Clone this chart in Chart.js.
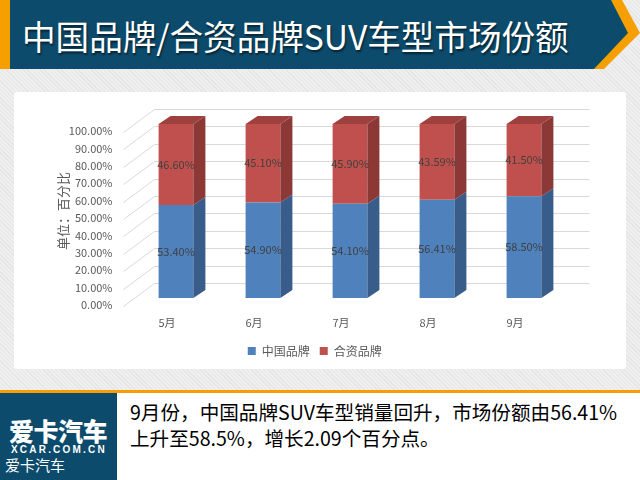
<!DOCTYPE html>
<html>
<head>
<meta charset="utf-8">
<script src="https://cdn.jsdelivr.net/npm/chart.js@4.4.0/dist/chart.umd.min.js"></script>
<style>
body{margin:0;width:640px;height:480px;overflow:hidden;position:relative;
  background:#ececec repeating-linear-gradient(45deg,#e5e5e5 0,#e5e5e5 1px,#efefef 1px,#efefef 3px);
  font-family:"Noto Sans CJK SC","Noto Sans",sans-serif;}
#head{position:absolute;left:0;top:0;width:640px;height:72px;}
#title{position:absolute;left:22px;top:14px;color:#fff;font-size:33.6px;line-height:44px;white-space:nowrap;
  text-shadow:1px 2px 2px rgba(0,0,0,.55);}
#panel{position:absolute;left:14px;top:92px;width:612px;height:277px;background:#fff;border-radius:3px;}
#foot{position:absolute;left:0;top:390px;width:640px;height:87px;background:#fff;border-top:3px solid #f5a000;}
#logo{position:absolute;left:0;top:0;width:117px;height:87px;background:#0c4b6c;color:#fff;}
#logo .big{position:absolute;left:9px;top:23px;font-size:25px;line-height:28px;font-weight:900;letter-spacing:-0.5px;white-space:nowrap;}
#logo .url{position:absolute;left:11px;top:51px;font-family:"Liberation Sans",Arial,sans-serif;font-size:10px;line-height:12px;font-weight:bold;letter-spacing:2.2px;white-space:nowrap;}
#logo .small{position:absolute;left:5px;top:62px;font-size:15px;line-height:20px;white-space:nowrap;}
#note{position:absolute;left:130px;top:6px;font-size:19.6px;line-height:26px;color:#000;white-space:nowrap;}
#wrap{position:absolute;left:0;top:0;width:640px;height:480px;}
</style>
</head>
<body>
<svg id="head" width="640" height="72">
  <polygon points="0,0 612,0 630,33 596,69 0,69" fill="#0c4b6c"/>
  <polygon points="611,0 622,0 640,33 604,69 594,69 628,33" fill="#f5a000"/>
  <rect x="0" y="0" width="10" height="69" fill="#f5a000"/>
</svg>
<div id="title">中国品牌/合资品牌SUV车型市场份额</div>
<div id="panel"></div>
<div id="foot">
  <div id="logo">
    <div class="big">爱卡汽车</div>
    <div class="url">XCAR.COM.CN</div>
    <div class="small">爱卡汽车</div>
  </div>
  <div id="note">9月份，中国品牌SUV车型销量回升，市场份额由56.41%<br>上升至58.5%，增长2.09个百分点。</div>
</div>
<div id="wrap"><canvas id="mycanvas" width="640" height="480"></canvas></div>
<script>
var months = ['5月', '6月', '7月', '8月', '9月'];
var chinaShare = [53.40, 54.90, 54.10, 56.41, 58.50];
var jvShare = [46.60, 45.10, 45.90, 43.59, 41.50];
var seriesNames = ['中国品牌', '合资品牌'];
var yTitle = '单位：百分比';

// 3d look: depth of the bars and of the back wall
var depthX = 12, depthY = 8;
var wallX = 22, wallY = 15;

Chart.defaults.font.family = '"Noto Sans CJK SC", "Noto Sans", sans-serif';
Chart.defaults.color = '#595959';

var wallPlugin = {
  id: 'wall',
  beforeDatasetsDraw: function(chart) {
    var ctx = chart.ctx;
    var xs = chart.scales.x, ys = chart.scales.y;
    ctx.save();
    ctx.strokeStyle = '#d9d9d9';
    ctx.lineWidth = 1;
    ys.ticks.forEach(function(t) {
      var py = Math.round(ys.getPixelForValue(t.value)) + 0.5;
      ctx.beginPath();
      ctx.moveTo(xs.left - 9, py + 8);
      ctx.lineTo(xs.left + wallX, py - wallY);
      ctx.lineTo(xs.right + wallX, py - wallY);
      ctx.stroke();
    });
    ctx.restore();
  },
  afterDatasetsDraw: function(chart) {
    var ctx = chart.ctx;
    var n = chart.data.datasets.length;
    ctx.save();
    chart.data.datasets.forEach(function(ds, i) {
      var meta = chart.getDatasetMeta(i);
      meta.data.forEach(function(bar) {
        var l = bar.x - bar.width / 2, r = bar.x + bar.width / 2;
        ctx.fillStyle = ds.sideColor;
        ctx.beginPath();
        ctx.moveTo(r, bar.y);
        ctx.lineTo(r + depthX, bar.y - depthY);
        ctx.lineTo(r + depthX, bar.base - depthY);
        ctx.lineTo(r, bar.base);
        ctx.closePath();
        ctx.fill();
        if (i == n - 1) {
          ctx.fillStyle = ds.topColor;
          ctx.beginPath();
          ctx.moveTo(l, bar.y);
          ctx.lineTo(l + depthX, bar.y - depthY);
          ctx.lineTo(r + depthX, bar.y - depthY);
          ctx.lineTo(r, bar.y);
          ctx.closePath();
          ctx.fill();
        }
      });
    });
    // value labels in the middle of each piece
    ctx.font = '11px "Noto Sans CJK SC", "Noto Sans", sans-serif';
    ctx.fillStyle = '#404040';
    ctx.textAlign = 'center';
    ctx.textBaseline = 'middle';
    chart.data.datasets.forEach(function(ds, i) {
      chart.getDatasetMeta(i).data.forEach(function(bar, j) {
        ctx.fillText(ds.data[j].toFixed(2) + '%', bar.x, (bar.y + bar.base) / 2);
      });
    });
    ctx.restore();
  }
};

var ctx = document.getElementById('mycanvas');

var barGraph = new Chart(ctx, {
  type: 'bar',
  data: {
    labels: months,
    datasets: [
      {
        label: seriesNames[0],
        data: chinaShare,
        backgroundColor: '#4f81bd',
        sideColor: '#385d8a',
        topColor: '#456fa3',
        borderWidth: 0,
        barPercentage: 0.4,
        categoryPercentage: 1
      },
      {
        label: seriesNames[1],
        data: jvShare,
        backgroundColor: '#c0504d',
        sideColor: '#8c3836',
        topColor: '#9e413e',
        borderWidth: 0,
        barPercentage: 0.4,
        categoryPercentage: 1
      }
    ]
  },
  options: {
    responsive: false,
    animation: false,
    layout: { padding: { top: 124, right: 72.5, bottom: 113, left: 62 } },
    scales: {
      x: {
        stacked: true,
        grid: { display: false },
        border: { display: false },
        ticks: { font: { size: 11 }, color: '#595959', padding: 10, labelOffset: -9 },
        afterFit: function(s) { s.height = 37; }
      },
      y: {
        stacked: true,
        min: 0,
        max: 100,
        grid: { display: false, drawTicks: false },
        border: { display: false },
        ticks: {
          stepSize: 10,
          font: { size: 11 },
          color: '#595959',
          padding: 20,
          labelOffset: 7,
          callback: function(v) { return v.toFixed(2) + '%'; }
        },
        title: {
          display: true,
          text: yTitle,
          font: { size: 13 },
          color: '#595959',
          padding: { top: -7, bottom: 0 }
        },
        afterFit: function(s) { s.width = 70.5; }
      }
    },
    plugins: {
      legend: {
        position: 'bottom',
        labels: { boxWidth: 8, boxHeight: 8, font: { size: 12 }, color: '#595959', padding: 10 }
      },
      tooltip: { enabled: false }
    }
  },
  plugins: [wallPlugin]
});
</script>
</body>
</html>
